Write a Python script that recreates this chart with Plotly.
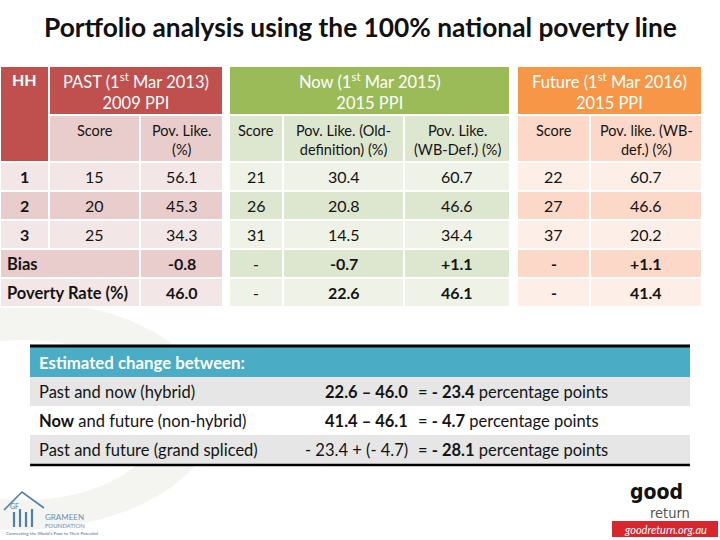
import plotly.graph_objects as go

W, H = 720, 540
FONT = "Lato"

# ---------------- data ----------------
title_text = "Portfolio analysis using the 100% national poverty line"
hh_ids = ["1", "2", "3"]
past_score = [15, 20, 25]
past_pov = [56.1, 45.3, 34.3]
past_bias = -0.8
past_rate = 46.0
now_score = [21, 26, 31]
now_pov_old = [30.4, 20.8, 14.5]
now_pov_wb = [60.7, 46.6, 34.4]
now_bias = [-0.7, 1.1]
now_rate = [22.6, 46.1]
fut_score = [22, 27, 37]
fut_pov_wb = [60.7, 46.6, 20.2]
fut_bias = 1.1
fut_rate = 41.4

hh_label = "HH"
group_titles = ["PAST (1<sup>st</sup> Mar 2013)<br>2009 PPI",
                "Now (1<sup>st</sup> Mar 2015)<br>2015 PPI",
                "Future (1<sup>st</sup> Mar 2016)<br>2015 PPI"]
past_cols = ["Score", "Pov. Like.<br>(%)"]
now_cols = ["Score", "Pov. Like. (Old-<br>definition) (%)", "Pov. Like.<br>(WB-Def.) (%)"]
fut_cols = ["Score", "Pov. like. (WB-<br>def.) (%)"]
summary_labels = ["Bias", "Poverty Rate (%)"]
no_score = "-"

change_header = "Estimated change between:"
change_labels = ["Past and now (hybrid)", "<b>Now</b> and future (non-hybrid)",
                 "Past and future (grand spliced)"]
change_a = [22.6, 41.4, -23.4]
change_b = [46.0, 46.1, -4.7]
change_result = [-23.4, -4.7, -28.1]
unit_text = "percentage points"

# ---------------- styles / geometry ----------------
RED, RED_D, RED_L = "#C0504D", "#E8CDCC", "#F3E6E6"
GRN, GRN_D, GRN_L = "#9BBB59", "#DDE6CF", "#EEF2E7"
ORG, ORG_D, ORG_L = "#F79646", "#FBD8C8", "#FDEEE8"
TEAL, GRAY = "#4BACC6", "#E6E6E6"
INK = "#141414"

Y_TOP, GROUP_H, SUB_H, ROW_H = 66, 49, 47, 29
Y_SUB = Y_TOP + GROUP_H
Y_ROW = Y_SUB + SUB_H
LEFT = [0, 49, 140, 223]
MID = [229, 283, 404, 510]
RIGHT = [517, 590, 702]
LOW_X = [30, 292, 412, 690]
LOW_Y = 347
LOW_H = 29
PAD = 5

shapes, annotations = [], []


def rect(x0, x1, y0, y1, fill, line="white", lw=2):
    shapes.append(dict(type="rect", xref="x", yref="y", x0=x0, x1=x1, y0=y0, y1=y1,
                       fillcolor=fill, line=dict(color=line, width=lw), layer="below"))


def text(s, x, y, size, color=INK, xanchor="center", yanchor="middle", align="center",
         family=FONT):
    annotations.append(dict(text=s, x=x, y=y, xref="x", yref="y", showarrow=False,
                            xanchor=xanchor, yanchor=yanchor, align=align,
                            font=dict(family=family, size=size, color=color)))


def cell(x0, x1, y0, y1, fill, s, size, color=INK, align="center", top=None):
    rect(x0, x1, y0, y1, fill)
    if align == "left":
        x, xa = x0 + PAD, "left"
    elif align == "right":
        x, xa = x1 - PAD, "right"
    else:
        x, xa = (x0 + x1) / 2, "center"
    if top is not None:
        y, ya = y0 + top, "top"
    else:
        y, ya = (y0 + y1) / 2, "middle"
    text(s, x, y, size, color, xa, ya, align)


def fmt(v, bold=False, sign=False):
    s = f"{v:+.1f}" if sign else f"{v:.1f}"
    return f"<b>{s}</b>" if bold else s


def row_y(i):
    return Y_ROW + i * ROW_H, Y_ROW + (i + 1) * ROW_H


# ---- background decoration (very faint)
shapes.append(dict(type="circle", xref="x", yref="y", layer="below", x0=-180, x1=215,
                   y0=300, y1=530, line=dict(width=0), fillcolor="#F4F4F1"))
shapes.append(dict(type="circle", xref="x", yref="y", layer="below", x0=-110, x1=160,
                   y0=340, y1=500, line=dict(width=0), fillcolor="white"))

# ---- headers
cell(LEFT[0], LEFT[1], Y_TOP, Y_ROW, RED, f"<b>{hh_label}</b>", 16, "white", top=2)
groups = [(LEFT[1], LEFT[3], RED, RED_D, past_cols, LEFT[1:]),
          (MID[0], MID[3], GRN, GRN_D, now_cols, MID),
          (RIGHT[0], RIGHT[2], ORG, ORG_D, fut_cols, RIGHT)]
for t, (x0, x1, hc, dc, cols, edges) in zip(group_titles, groups):
    cell(x0, x1, Y_TOP, Y_SUB, hc, t, 16.5, "white", top=2)
    for j, c in enumerate(cols):
        cell(edges[j], edges[j + 1], Y_SUB, Y_ROW, dc, c, 14.5, INK, top=5)

# ---- PAST rows
for i in range(3):
    y0, y1 = row_y(i)
    f = RED_L if i % 2 == 0 else RED_D
    cell(LEFT[0], LEFT[1], y0, y1, f, f"<b>{hh_ids[i]}</b>", 16)
    cell(LEFT[1], LEFT[2], y0, y1, f, str(past_score[i]), 16)
    cell(LEFT[2], LEFT[3], y0, y1, f, fmt(past_pov[i]), 16)
past_summary = [fmt(past_bias, True), fmt(past_rate, True)]
for k in range(2):
    y0, y1 = row_y(3 + k)
    f = RED_D if k == 0 else RED_L
    cell(LEFT[0], LEFT[2], y0, y1, f, f"<b>{summary_labels[k]}</b>", 16.5, align="left")
    cell(LEFT[2], LEFT[3], y0, y1, f, past_summary[k], 16)

# ---- NOW rows
now_cols_vals = [[str(v) for v in now_score] + [no_score] * 2,
                 [fmt(v) for v in now_pov_old] + [fmt(now_bias[0], True), fmt(now_rate[0], True)],
                 [fmt(v) for v in now_pov_wb] + [fmt(now_bias[1], True, True), fmt(now_rate[1], True)]]
for i in range(5):
    y0, y1 = row_y(i)
    f = GRN_L if i % 2 == 0 else GRN_D
    for j in range(3):
        cell(MID[j], MID[j + 1], y0, y1, f, now_cols_vals[j][i], 16)

# ---- FUTURE rows
fut_cols_vals = [[str(v) for v in fut_score] + [f"<b>{no_score}</b>"] * 2,
                 [fmt(v) for v in fut_pov_wb] + [fmt(fut_bias, True, True), fmt(fut_rate, True)]]
for i in range(5):
    y0, y1 = row_y(i)
    f = ORG_L if i % 2 == 0 else ORG_D
    for j in range(2):
        cell(RIGHT[j], RIGHT[j + 1], y0, y1, f, fut_cols_vals[j][i], 16)


# ---- lower change table
def dash(v):
    return f"- {abs(v):.1f}" if v < 0 else f"{v:.1f}"


mid_txt = []
for a, b in zip(change_a, change_b):
    if b < 0:
        mid_txt.append(f"{dash(a)} + ({dash(b)})")
    else:
        mid_txt.append(f"<b>{dash(a)} – {dash(b)}</b>")
res_txt = [f"= <b>{dash(r)}</b> {unit_text}" for r in change_result]

rect(LOW_X[0], LOW_X[-1], LOW_Y, LOW_Y + LOW_H + 1, TEAL, line=TEAL, lw=0)
text(f"<b>{change_header}</b>", LOW_X[0] + 7, LOW_Y + LOW_H / 2 + 1, 16.8, "white",
     xanchor="left")
for i in range(3):
    y0 = LOW_Y + LOW_H + 1 + i * LOW_H
    y1 = y0 + LOW_H
    f = GRAY if i % 2 == 0 else "white"
    rect(LOW_X[0], LOW_X[-1], y0, y1, f, line=f, lw=0)
    yc = (y0 + y1) / 2
    text(change_labels[i], LOW_X[0] + 7, yc, 16.5, xanchor="left")
    text(mid_txt[i], LOW_X[2] - 2, yc, 16.5, xanchor="right")
    text(res_txt[i], LOW_X[2] + 4, yc, 16.5, xanchor="left")
low_bottom = LOW_Y + LOW_H + 1 + 3 * LOW_H
for yy, w in [(LOW_Y - 1, 3), (low_bottom + 1, 2.5)]:
    shapes.append(dict(type="line", xref="x", yref="y", x0=LOW_X[0], x1=LOW_X[-1],
                       y0=yy, y1=yy, line=dict(color="black", width=w)))

# ---- title
text(f"<b>{title_text}</b>", W / 2, 27, 26.3, "#111111")

# ---- logos (approximations)
shapes.append(dict(type="rect", xref="x", yref="y", x0=612, x1=718, y0=521, y1=537,
                   line=dict(width=0), fillcolor="#D7262E"))
text("<b>good</b>", 656, 492, 21, "#111111", family="DejaVu Sans Condensed")
text("return", 670, 513, 14.5, "#555555", family="DejaVu Sans Condensed")
text("<i>goodreturn.org.au</i>", 665, 529, 11, "white")

shapes.append(dict(type="path", xref="x", yref="y",
                   path="M 4,510 L 22,492 L 44,508",
                   line=dict(color="#4E7FAE", width=1.6)))
for i in range(4):
    xx = 14 + i * 6
    shapes.append(dict(type="line", xref="x", yref="y", x0=xx, x1=xx,
                       y0=527, y1=512 - (i % 2) * 3,
                       line=dict(color="#4E7FAE", width=2.2)))
text("GF", 14, 506, 7, "#4E7FAE")
text("GRAMEEN", 43, 517, 8, "#6E8FB3", xanchor="left")
text("FOUNDATION", 43, 525, 6, "#6E8FB3", xanchor="left")
text("Connecting the World's Poor to Their Potential", 4, 533, 4.5, "#4E6E8E",
     xanchor="left")

fig = go.Figure()
fig.add_trace(go.Scatter(x=[0, W], y=[0, H], mode="markers", marker=dict(opacity=0),
                         hoverinfo="skip", showlegend=False))
fig.update_xaxes(range=[0, W], visible=False, fixedrange=True)
fig.update_yaxes(range=[H, 0], visible=False, fixedrange=True)
fig.update_layout(width=W, height=H, margin=dict(l=0, r=0, t=0, b=0),
                  paper_bgcolor="white", plot_bgcolor="white",
                  shapes=shapes, annotations=annotations, showlegend=False)
fig.write_html("out.html", config={"displayModeBar": False},
               post_script="document.body.style.margin='0';")
